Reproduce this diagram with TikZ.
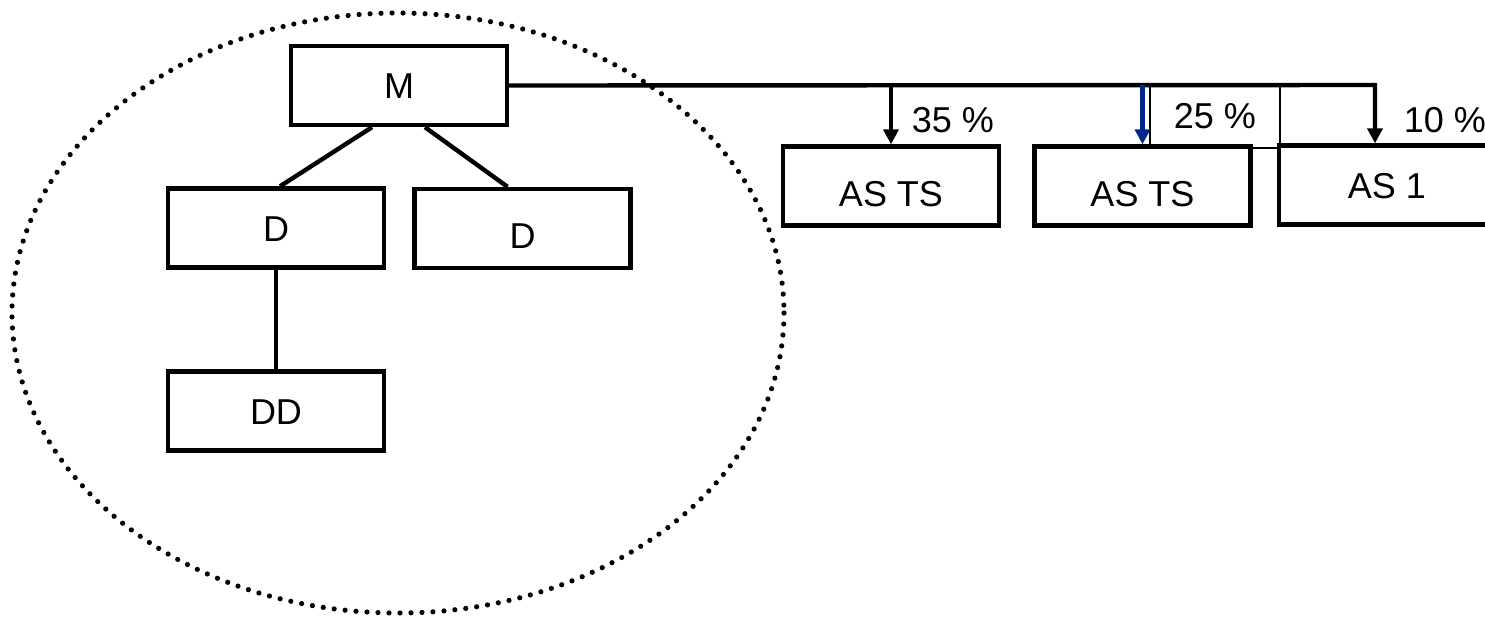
\documentclass[tikz,border=0pt]{standalone}
\usepackage{fontspec}
\setmainfont{Liberation Sans}
\usetikzlibrary{arrows.meta,calc}
\definecolor{arrowblue}{RGB}{0,40,140}
\begin{document}
\begin{tikzpicture}[x=0.5pt,y=-0.5pt,
  labelfont/.style={font=\fontsize{18}{20}\selectfont},
  box/.style={draw,line width=2.2pt,rectangle,inner sep=0pt,
    minimum width=108pt,minimum height=39.5pt,labelfont,
    text height=13pt,text depth=0pt},
  lowtext/.style={text height=20pt},
  link/.style={line width=2.2pt},
  down/.style={line width=2.2pt,-{Triangle[width=7.5pt,length=7.5pt]}},
  pct/.style={labelfont,inner sep=0pt},
  dots/.style={line width=2.6pt,line cap=round,dash pattern=on 0pt off 5.5pt},
]
\useasboundingbox (0,0) rectangle (1485,617);

% group outline
\draw[dots] (398,313) ellipse [x radius=386, y radius=300];

% organisation boxes
\node[box] (M)  at (399,85.5)   {M};
\node[box] (D1) at (276,228)    {D};
\node[box,lowtext] (D2) at (522.5,228.5) {D};
\node[box] (DD) at (276,411)    {DD};
\node[box,lowtext] (A1) at (891,186)    {AS TS};
\node[box,lowtext] (A2) at (1142.5,186) {AS TS};
\node[box] (A3) at (1387,185)   {AS 1};

% share labels
\node[pct] (p35) at (953,120) {35 \%};
\node[pct,draw,line width=0.6pt,minimum width=65pt,minimum height=31.5pt]
  (p25) at (1215,116.5) {25 \%};
\node[pct] (p10) at (1445,120) {10 \%};

% tree links
\draw[link] ($(M.south)+(-27,0)$) -- ($(D1.north)+(4,0)$);
\draw[link] ($(M.south)+(26,0)$) -- ($(D2.north)+(-15,0)$);
\draw[link] (D1.south) -- (DD.north);

% holdings
\coordinate (j3) at (1375,85);
\draw[down] (M.east) -- (j3) -- (j3 |- A3.north);
\draw[down] (A1.north |- j3) -- (A1.north);
\draw[down,arrowblue] (A2.north |- j3) -- (A2.north);
\end{tikzpicture}
\end{document}
